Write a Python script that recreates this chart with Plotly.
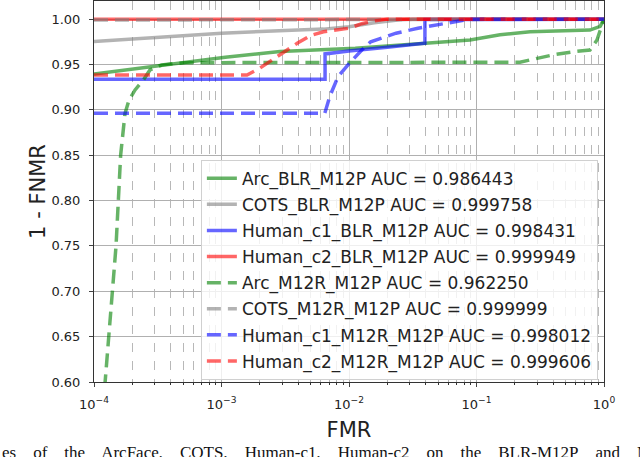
import plotly.graph_objects as go

# FMR (x) and 1 - FNMR (y)
arc_blr_fmr = [1e-4, 2.75e-4, 5.13e-4, 1.07e-3, 2.88e-3, 1.12e-2, 3.98e-2, 8.9e-2, 0.153, 0.263, 0.776, 0.933, 1.0]
arc_blr_tpr = [0.9396, 0.9477, 0.953, 0.958, 0.9642, 0.968, 0.9735, 0.977, 0.9827, 0.986, 0.988, 0.992, 1.0]

cots_blr_fmr = [1e-4, 3.16e-4, 1e-3, 3.16e-3, 6.31e-3, 1e-2, 1.58e-2, 2.51e-2, 3.16e-2, 1.0]
cots_blr_tpr = [0.9753, 0.980, 0.9845, 0.9875, 0.989, 0.9915, 0.996, 0.9992, 1.0, 1.0]

hc1_blr_fmr = [1e-4, 6.49e-3, 6.49e-3, 1e-2, 2e-2, 3.94e-2, 3.94e-2, 1.0]
hc1_blr_tpr = [0.9338, 0.9338, 0.9617, 0.965, 0.969, 0.9735, 0.9995, 1.0]

hc2_blr_fmr = [1e-4, 1.0]
hc2_blr_tpr = [1.0, 1.0]

arc_m12r_fmr = [1.175e-4, 1.219e-4, 1.312e-4, 1.393e-4, 1.489e-4, 1.552e-4, 1.618e-4, 1.75e-4,
                1.884e-4, 2.099e-4, 2.438e-4, 2.748e-4, 3.396e-4, 5.176e-4, 0.2193, 0.263,
                0.398, 0.571, 0.776, 0.881, 0.964, 1.0]
arc_m12r_tpr = [0.57, 0.60, 0.65, 0.70, 0.75, 0.80, 0.85, 0.896,
                0.911, 0.922, 0.933, 0.944, 0.9496, 0.952, 0.9525, 0.955,
                0.9606, 0.964, 0.966, 0.977, 0.9937, 1.0]

cots_m12r_fmr = [1e-4, 1e-2, 1.0]
cots_m12r_tpr = [0.999, 0.9995, 1.0]

hc1_m12r_fmr = [1e-4, 6.46e-3, 7.08e-3, 8.2e-3, 9.82e-3, 1.11e-2, 1.26e-2, 1.48e-2,
                2.34e-2, 3.47e-2, 5.01e-2, 7.59e-2, 8.91e-2, 1.0]
hc1_m12r_tpr = [0.8963, 0.8963, 0.915, 0.9366, 0.9496, 0.958, 0.966, 0.975,
                0.9845, 0.990, 0.9937, 0.9985, 1.0, 1.0]

hc2_m12r_fmr = [1e-4, 1.585e-3, 2.0e-3, 2.51e-3, 3.16e-3, 3.98e-3, 5.01e-3, 6.31e-3,
                1e-2, 1.26e-2, 1.58e-2, 2.0e-2, 1.0]
hc2_m12r_tpr = [0.9385, 0.9385, 0.946, 0.955, 0.965, 0.974, 0.982, 0.986,
                0.990, 0.995, 0.998, 1.0, 1.0]

names = ["Arc_BLR_M12P AUC = 0.986443", "COTS_BLR_M12P AUC = 0.999758",
         "Human_c1_BLR_M12P AUC = 0.998431", "Human_c2_BLR_M12P AUC = 0.999949",
         "Arc_M12R_M12P AUC = 0.962250", "COTS_M12R_M12P AUC = 0.999999",
         "Human_c1_M12R_M12P AUC = 0.998012", "Human_c2_M12R_M12P AUC = 0.999606"]

xtick_vals = [1e-4, 1e-3, 1e-2, 1e-1, 1]
xtick_text = ["10<sup>−4</sup>", "10<sup>−3</sup>", "10<sup>−2</sup>", "10<sup>−1</sup>", "10<sup>0</sup>"]
ytick_vals = [0.60, 0.65, 0.70, 0.75, 0.80, 0.85, 0.90, 0.95, 1.00]

caption_words = ["es", "of", "the", "ArcFace,", "COTS,", "Human-c1,", "Human-c2", "on", "the",
                 "BLR-M12P", "and", "M12R"]

GREEN = "rgba(0,128,0,0.6)"
GRAY = "rgba(128,128,128,0.6)"
BLUE = "rgba(0,0,255,0.6)"
RED = "rgba(255,0,0,0.6)"

curves = [
    (arc_blr_fmr, arc_blr_tpr, GREEN, "solid"),
    (cots_blr_fmr, cots_blr_tpr, GRAY, "solid"),
    (hc1_blr_fmr, hc1_blr_tpr, BLUE, "solid"),
    (hc2_blr_fmr, hc2_blr_tpr, RED, "solid"),
    (arc_m12r_fmr, arc_m12r_tpr, GREEN, "14px,7px"),
    (cots_m12r_fmr, cots_m12r_tpr, GRAY, "14px,7px"),
    (hc1_m12r_fmr, hc1_m12r_tpr, BLUE, "14px,7px"),
    (hc2_m12r_fmr, hc2_m12r_tpr, RED, "14px,7px"),
]

fig = go.Figure()
for i, (xs, ys, col, dash) in enumerate(curves):
    fig.add_trace(go.Scatter(x=xs, y=ys, mode="lines", name=names[i], legendgroup=str(i),
                             line=dict(color=col, width=3.5, dash=dash)))

minor_x = [m * 10.0 ** e for e in range(-4, 0) for m in range(2, 10)]

fig.update_layout(
    width=640, height=457,
    margin=dict(l=94, r=36, t=1, b=75),
    paper_bgcolor="white", plot_bgcolor="white",
    font=dict(family="DejaVu Sans", size=13, color="#222"),
    legend=dict(x=0.988, y=0.006, xanchor="right", yanchor="bottom",
                bgcolor="rgba(255,255,255,0.8)", bordercolor="#d0d0d0", borderwidth=1,
                font=dict(size=17, color="#222"), tracegroupgap=1),
    xaxis=dict(type="log", range=[-4, 0], title=dict(text="FMR", font=dict(size=21), standoff=11),
               tickvals=xtick_vals, ticktext=xtick_text, ticks="outside", ticklen=4,
               ticklabelstandoff=6,
               showgrid=True, gridcolor="#b0b0b0", gridwidth=1,
               showline=True, linecolor="#333", linewidth=1, mirror=True, zeroline=False,
               minor=dict(tickvals=minor_x, ticks="outside", ticklen=2, tickcolor="#333",
                          showgrid=True, gridcolor="#b8b8b8", griddash="dash", gridwidth=0.8)),
    yaxis=dict(range=[0.6, 1.02], title=dict(text="1 - FNMR", font=dict(size=21), standoff=0),
               tickvals=ytick_vals, tickformat=".2f", ticks="outside", ticklen=4,
               ticklabelstandoff=6,
               showgrid=True, gridcolor="#b0b0b0", gridwidth=1,
               showline=True, linecolor="#333", linewidth=1, mirror=True, zeroline=False),
)

# cropped paper caption below the figure
fig.add_annotation(text="\u00a0\u00a0\u00a0 ".join(caption_words),
                   xref="paper", yref="paper", x=-0.184, y=-0.155, xanchor="left", yanchor="top",
                   showarrow=False, font=dict(family="Liberation Serif", size=17, color="#111"))

fig.write_html("out.html", config={"displayModeBar": False},
               post_script="document.body.style.margin='0';")
